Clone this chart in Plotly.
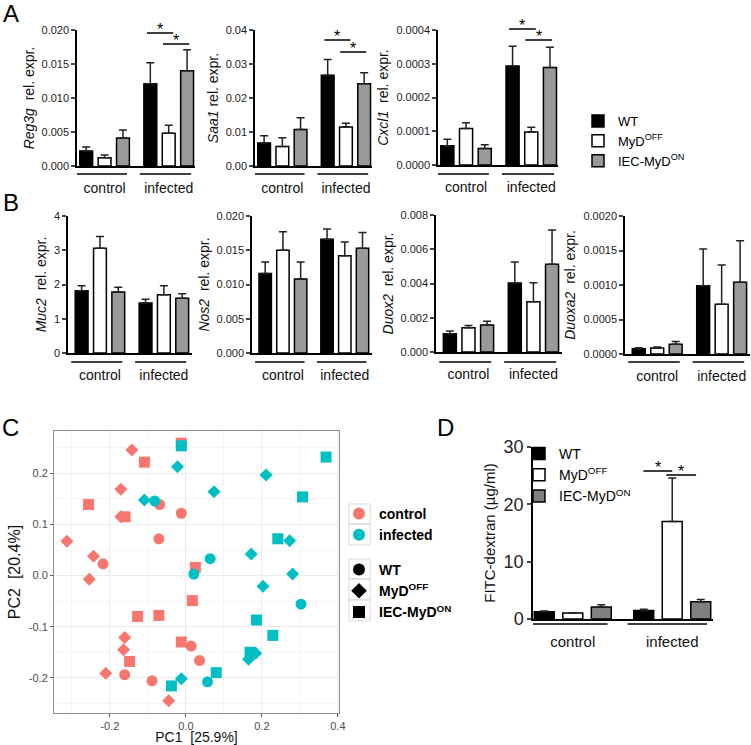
import plotly.graph_objects as go

W, H = 751, 745

groups = ["control", "infected"]
genotypes = ["WT", "MyD<sup>OFF</sup>", "IEC-MyD<sup>ON</sup>"]

# bar heights: one row per genotype (WT, MyDOFF, IEC-MyDON), columns = control, infected
reg3g_mean = [[0.0022, 0.0121], [0.0012, 0.0048], [0.0041, 0.0140]]
reg3g_sem = [[0.0006, 0.0031], [0.0004, 0.0012], [0.0012, 0.0031]]
saa1_mean = [[0.0068, 0.0267], [0.0057, 0.0115], [0.0107, 0.0242]]
saa1_sem = [[0.0021, 0.0046], [0.0026, 0.0011], [0.0035, 0.0032]]
cxcl1_mean = [[0.000057, 0.000293], [0.000108, 0.000098], [0.000049, 0.000289]]
cxcl1_sem = [[0.000019, 0.000059], [0.000017, 0.000014], [0.000011, 0.000060]]
muc2_mean = [[1.82, 1.46], [3.06, 1.70], [1.78, 1.60]]
muc2_sem = [[0.14, 0.11], [0.34, 0.26], [0.14, 0.13]]
nos2_mean = [[0.0116, 0.0166], [0.0150, 0.0142], [0.0108, 0.0153]]
nos2_sem = [[0.0017, 0.0015], [0.0027, 0.0020], [0.0025, 0.0023]]
duox2_mean = [[0.00107, 0.00403], [0.00141, 0.00293], [0.00157, 0.00512]]
duox2_sem = [[0.00015, 0.00122], [0.00014, 0.00112], [0.00023, 0.00201]]
duoxa2_mean = [[0.000077, 0.00099], [0.000087, 0.00072], [0.00014, 0.00104]]
duoxa2_sem = [[0.000015, 0.00053], [0.000013, 0.00057], [0.00004, 0.00060]]
fitc_mean = [[1.28, 1.5], [1.05, 17.0], [2.1, 3.0]]
fitc_sem = [[0.12, 0.2], [0.05, 7.6], [0.4, 0.4]]

# PCA scores, panel C
ctrl_wt_pc1 = [-0.069, -0.012, -0.071, -0.218, 0.014, 0.036, -0.161, -0.089]
ctrl_wt_pc2 = [0.139, 0.122, 0.072, 0.023, -0.138, -0.166, -0.194, -0.206]
ctrl_myd_pc1 = [-0.142, -0.171, -0.171, -0.313, -0.243, -0.254, -0.161, -0.164, -0.211, -0.045]
ctrl_myd_pc2 = [0.246, 0.169, 0.115, 0.067, 0.038, -0.007, -0.121, -0.145, -0.191, -0.245]
ctrl_iec_pc1 = [-0.109, -0.256, -0.160, -0.012, 0.025, 0.017, -0.127, -0.071, -0.012, -0.148]
ctrl_iec_pc2 = [0.222, 0.139, 0.115, 0.259, 0.016, -0.049, -0.080, -0.078, -0.130, -0.168]
inf_wt_pc1 = [-0.082, 0.064, 0.021, 0.303, 0.057]
inf_wt_pc2 = [0.146, 0.033, 0.003, -0.056, -0.208]
inf_myd_pc1 = [-0.022, 0.211, 0.074, -0.109, 0.273, 0.172, 0.281, 0.203, 0.184, 0.165, -0.012]
inf_myd_pc2 = [0.213, 0.197, 0.164, 0.148, 0.068, 0.042, 0.003, -0.021, -0.152, -0.164, -0.202]
inf_iec_pc1 = [-0.012, 0.369, 0.307, 0.242, 0.186, 0.229, 0.169, 0.080, -0.038]
inf_iec_pc2 = [0.254, 0.232, 0.154, 0.072, -0.087, -0.117, -0.150, -0.190, -0.216]

pc1_ticks = [-0.2, 0.0, 0.2, 0.4]
pc1_labels = ["-0.2", "0.0", "0.2", "0.4"]
pc2_ticks = [-0.2, -0.1, 0.0, 0.1, 0.2]
pc2_labels = ["-0.2", "-0.1", "0.0", "0.1", "0.2"]

FONT = "Liberation Sans, Arial, sans-serif"
RED, TEAL = "#F8766D", "#00BFC4"


def xd(a, b):
    return [a / W, b / W]


def yd(top, bottom):
    return [1 - bottom / H, 1 - top / H]


def py(v):
    return 1 - v / H


fig = go.Figure()
shapes, annotations = [], []

# n, x px, y px, y range, dtick, tickformat, title, x range, means, sems, colours, legend, fonts, underline
panels = [
    (1, (77, 195), (30, 166), [0, 0.020], 0.005, ".3f", "<i>Reg3g</i>  rel. expr.", [-0.43, 1.41],
     reg3g_mean, reg3g_sem, ["black", "white", "#999999"], "legend", 11, 14, 174),
    (2, (255, 372), (30, 166), [0, 0.04], 0.01, ".2f", "<i>Saa1</i> rel. expr.", [-0.43, 1.41],
     saa1_mean, saa1_sem, ["black", "white", "#999999"], None, 11, 14, 174),
    (3, (438, 558), (30, 165), [0, 0.0004], 0.0001, ".4f", "<i>Cxcl1</i>  rel. expr.", [-0.43, 1.41],
     cxcl1_mean, cxcl1_sem, ["black", "white", "#999999"], None, 11, 14, 174),
    (4, (68, 192), (216, 353), [0, 4], 1, "d", "<i>Muc2</i>  rel. expr.", [-0.5, 1.44],
     muc2_mean, muc2_sem, ["black", "white", "#999999"], None, 11, 14, 362),
    (5, (252, 372), (216, 353), [0, 0.020], 0.005, ".3f", "<i>Nos2</i>  rel. expr.", [-0.5, 1.44],
     nos2_mean, nos2_sem, ["black", "white", "#999999"], None, 11, 14, 362),
    (6, (436, 562), (215, 352), [0, 0.008], 0.002, ".3f", "<i>Duox2</i>  rel. expr.", [-0.5, 1.44],
     duox2_mean, duox2_sem, ["black", "white", "#999999"], None, 11, 14, 362),
    (7, (625, 750), (216, 354), [0, 0.002], 0.0005, ".4f", "<i>Duoxa2</i>  rel. expr.", [-0.5, 1.44],
     duoxa2_mean, duoxa2_sem, ["black", "white", "#999999"], None, 11, 14, 362),
    (9, (533, 713), (447, 619), [0, 30], 10, "d", "FITC-dextran (µg/ml)", [-0.40, 1.41],
     fitc_mean, fitc_sem, ["black", "white", "#808080"], "legend4", 18, 15, 624),
]

for (n, xp, yp, yr, dt, fmt, title, xr, means, sems, cols, leg, tfs, lfs, uline) in panels:
    ax = "" if n == 1 else str(n)
    for g in range(3):
        fig.add_trace(go.Bar(
            x=groups, y=means[g], name=genotypes[g],
            marker=dict(color=cols[g], line=dict(color="black", width=1.5)),
            error_y=dict(type="data", symmetric=False, array=sems[g], arrayminus=[0, 0],
                         color="#222", thickness=1.5, width=4),
            offsetgroup=str(g), xaxis="x" + ax, yaxis="y" + ax,
            showlegend=leg is not None, legend=leg or "legend",
        ))
    fig.layout["xaxis" + ax] = dict(
        domain=xd(*xp), anchor="y" + ax, range=xr, showline=True, linecolor="black",
        linewidth=1.5, ticks="", showgrid=False, zeroline=False, ticklabelstandoff=8,
        automargin=False, tickfont=dict(size=lfs, color="#111"),
    )
    fig.layout["yaxis" + ax] = dict(
        domain=yd(*yp), anchor="x" + ax, range=yr, dtick=dt, tickformat=fmt,
        showline=True, linecolor="black", linewidth=1.5, ticks="outside", ticklen=4,
        tickwidth=1.5, showgrid=False, zeroline=False, automargin=False,
        tickfont=dict(size=tfs, color="#222"),
        title=dict(text=title, font=dict(size=lfs, color="#111"), standoff=4),
    )
    for c in (0, 1):
        shapes.append(dict(type="line", xref="x" + ax, yref="paper", x0=c - 0.45, x1=c + 0.35,
                           y0=py(uline), y1=py(uline), line=dict(color="black", width=1.5)))

# significance brackets: (axis, x0, x1, y px)
brackets = [
    ("x", 0.66, 1.07, 33), ("x", 0.91, 1.32, 44),
    ("x2", 0.66, 1.07, 40), ("x2", 0.91, 1.32, 52),
    ("x3", 0.66, 1.07, 29), ("x3", 0.91, 1.32, 40),
    ("x9", 0.71, 1.0, 471), ("x9", 0.94, 1.24, 475),
]
for ax, x0, x1, yy in brackets:
    shapes.append(dict(type="line", xref=ax, yref="paper", x0=x0, x1=x1, y0=py(yy), y1=py(yy),
                       line=dict(color="black", width=1.5)))
    annotations.append(dict(text="*", xref=ax, yref="paper", x=(x0 + x1) / 2, y=py(yy + 7),
                            yanchor="bottom", showarrow=False, font=dict(size=16, color="black")))

# panel C scatter
scatter_sets = [
    (ctrl_wt_pc1, ctrl_wt_pc2, RED, "circle", 11),
    (ctrl_myd_pc1, ctrl_myd_pc2, RED, "diamond", 10),
    (ctrl_iec_pc1, ctrl_iec_pc2, RED, "square", 11),
    (inf_wt_pc1, inf_wt_pc2, TEAL, "circle", 11),
    (inf_myd_pc1, inf_myd_pc2, TEAL, "diamond", 10),
    (inf_iec_pc1, inf_iec_pc2, TEAL, "square", 11),
]
for xs, ys, col, sym, sz in scatter_sets:
    fig.add_trace(go.Scatter(x=xs, y=ys, mode="markers", xaxis="x8", yaxis="y8", showlegend=False,
                             marker=dict(color=col, symbol=sym, size=sz, line=dict(width=0))))

for name, col in [("control", RED), ("infected", TEAL)]:
    fig.add_trace(go.Scatter(x=[None], y=[None], mode="markers", name=name, legend="legend2",
                             xaxis="x8", yaxis="y8", marker=dict(color=col, symbol="circle", size=12)))
for name, sym in zip(genotypes, ["circle", "diamond", "square"]):
    fig.add_trace(go.Scatter(x=[None], y=[None], mode="markers", name=name, legend="legend3",
                             xaxis="x8", yaxis="y8", marker=dict(color="black", symbol=sym, size=12)))

grid_axis = dict(showline=True, mirror=True, linecolor="#8c8c8c", linewidth=1, showgrid=True,
                 gridcolor="#EBEBEB", gridwidth=1, zeroline=False, ticks="outside", ticklen=3,
                 tickcolor="#555", tickfont=dict(size=11, color="#4D4D4D"), automargin=False)
fig.layout["xaxis8"] = dict(grid_axis, domain=xd(54, 339), anchor="y8", range=[-0.347, 0.403],
                            tickvals=pc1_ticks, ticktext=pc1_labels,
                            minor=dict(dtick=0.1, showgrid=True, gridcolor="#F5F5F5"),
                            title=dict(text="PC1  [25.9%]", font=dict(size=14, color="#111"), standoff=4))
fig.layout["yaxis8"] = dict(grid_axis, domain=yd(431, 713), anchor="x8", range=[-0.269, 0.283],
                            tickvals=pc2_ticks, ticktext=pc2_labels,
                            minor=dict(dtick=0.05, showgrid=True, gridcolor="#F5F5F5"),
                            title=dict(text="PC2  [20.4%]", font=dict(size=16, color="#111"), standoff=4))

# ggplot-style legend key boxes for panel C
for top, bottom in [(504, 524), (524, 545), (559, 579), (579, 600), (600, 621)]:
    shapes.append(dict(type="rect", xref="paper", yref="paper", x0=349 / W, x1=370 / W,
                       y0=py(bottom), y1=py(top), line=dict(color="#d9d9d9", width=1)))

for lbl, x, y in [("A", 11, 13), ("B", 11, 202), ("C", 10, 427), ("D", 445, 427)]:
    annotations.append(dict(text=lbl, xref="paper", yref="paper", x=x / W, y=py(y), showarrow=False,
                            font=dict(size=24, color="black"), xanchor="center", yanchor="middle"))

fig.update_layout(
    width=W, height=H, margin=dict(l=0, r=0, t=0, b=0),
    paper_bgcolor="white", plot_bgcolor="white",
    font=dict(family=FONT, color="black"),
    barmode="group", bargap=0.14, bargroupgap=0.3,
    shapes=shapes, annotations=annotations,
    legend=dict(x=578 / W, y=py(106), xanchor="left", yanchor="top", font=dict(size=13),
                bgcolor="rgba(0,0,0,0)", itemwidth=30, tracegroupgap=0),
    legend2=dict(x=339 / W, y=py(498), xanchor="left", yanchor="top",
                 font=dict(size=14, weight="bold"), bgcolor="rgba(0,0,0,0)", itemwidth=30),
    legend3=dict(x=339 / W, y=py(554), xanchor="left", yanchor="top",
                 font=dict(size=14, weight="bold"), bgcolor="rgba(0,0,0,0)", itemwidth=30),
    legend4=dict(x=519 / W, y=py(438), xanchor="left", yanchor="top", font=dict(size=14),
                 bgcolor="rgba(0,0,0,0)", itemwidth=30),
)

# the page body has a default 8px margin; remove it so the figure fills the window
fig.write_html("out.html", config={"displayModeBar": False},
               post_script="document.body.style.margin = '0';")
